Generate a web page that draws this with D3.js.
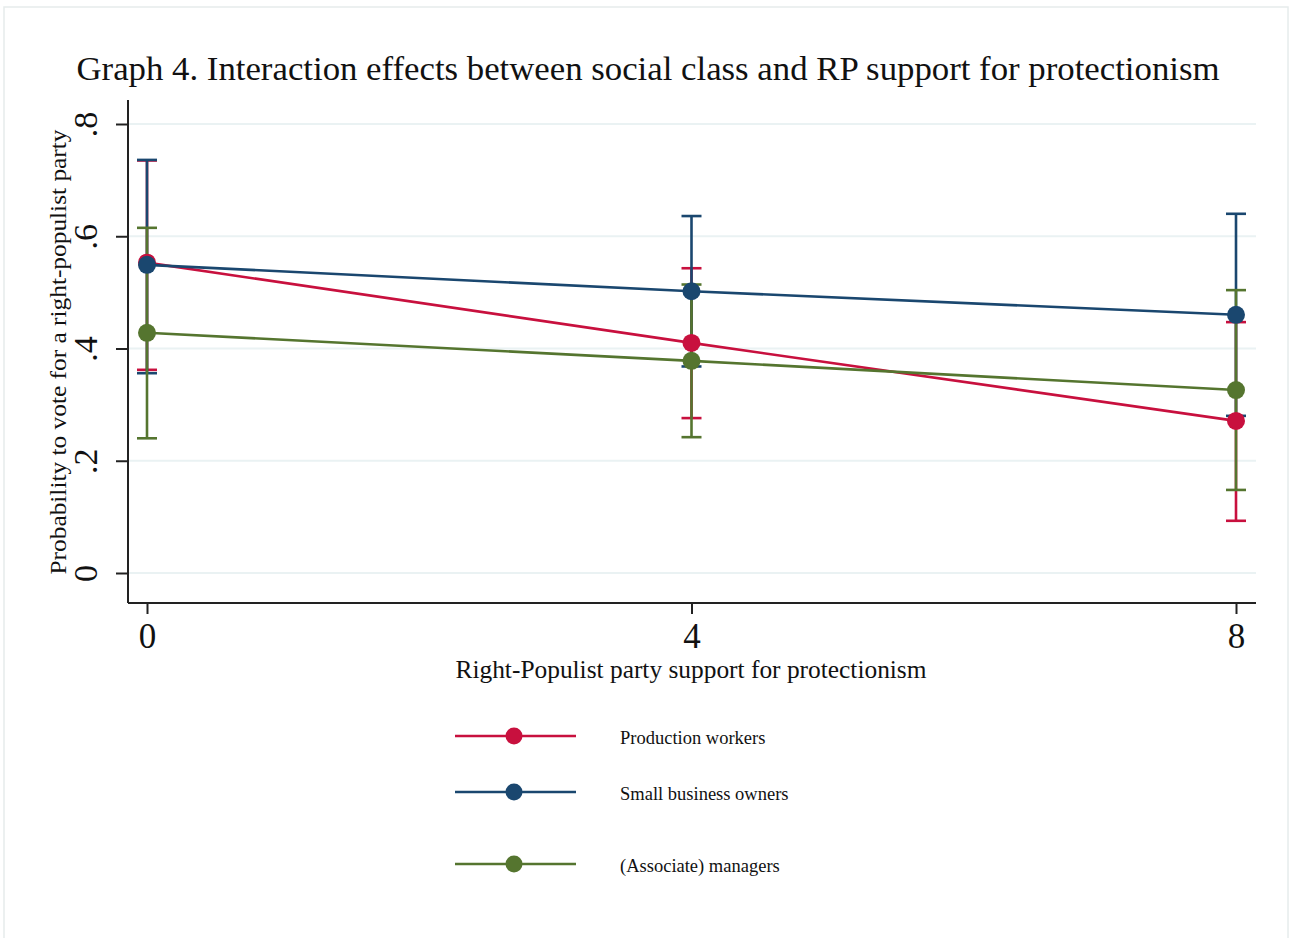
<!DOCTYPE html>
<html>
<head>
<meta charset="utf-8">
<script src="https://cdn.jsdelivr.net/npm/d3@7"></script>
<style>
  body { margin: 0; background: #fff; }
  svg { display: block; }
</style>
</head>
<body>
<svg id="chart" width="1291" height="938"></svg>
<script>
// values
const xValues = [0, 4, 8];
const seriesNames = ["Production workers", "Small business owners", "(Associate) managers"];
const workersMean = [0.553, 0.410, 0.271];
const workersLow = [0.362, 0.276, 0.093];
const workersHigh = [0.735, 0.543, 0.447];
const ownersMean = [0.549, 0.502, 0.460];
const ownersLow = [0.356, 0.368, 0.280];
const ownersHigh = [0.736, 0.636, 0.640];
const managersMean = [0.428, 0.378, 0.326];
const managersLow = [0.240, 0.242, 0.148];
const managersHigh = [0.615, 0.514, 0.504];
const yTicks = [0, 0.2, 0.4, 0.6, 0.8];
const yTickLabels = ["0", ".2", ".4", ".6", ".8"];
const seriesColors = ["#c8103e", "#1a476f", "#55752f"];

const series = [
  { name: seriesNames[0], mean: workersMean, low: workersLow, high: workersHigh, color: seriesColors[0] },
  { name: seriesNames[1], mean: ownersMean, low: ownersLow, high: ownersHigh, color: seriesColors[1] },
  { name: seriesNames[2], mean: managersMean, low: managersLow, high: managersHigh, color: seriesColors[2] }
];

const svg = d3.select("#chart");
const font = "'Liberation Serif', 'Times New Roman', serif";

// outer frame
svg.append("rect")
  .attr("x", 4).attr("y", 7)
  .attr("width", 1284).attr("height", 940)
  .attr("fill", "#fff")
  .attr("stroke", "#e6ecec")
  .attr("stroke-width", 1.5);

const plotLeft = 128, plotRight = 1256, plotTop = 100, plotBottom = 603;

const x = d3.scaleLinear().domain([0, 8]).range([147, 1236]);
const y = d3.scaleLinear().domain([0, 0.8]).range([573, 124]);

// title
svg.append("text")
  .attr("x", 648).attr("y", 80)
  .attr("text-anchor", "middle")
  .attr("font-family", font)
  .attr("font-size", 33)
  .attr("textLength", 1143)
  .attr("lengthAdjust", "spacingAndGlyphs")
  .attr("fill", "#111")
  .text("Graph 4. Interaction effects between social class and RP support for protectionism");

// grid lines
svg.append("g")
  .selectAll("line")
  .data(yTicks)
  .join("line")
  .attr("x1", plotLeft).attr("x2", plotRight)
  .attr("y1", d => y(d)).attr("y2", d => y(d))
  .attr("stroke", "#eaf2f3")
  .attr("stroke-width", 2);

// y axis
const yAxis = svg.append("g")
  .attr("transform", `translate(${plotLeft},0)`)
  .call(d3.axisLeft(y).tickValues(yTicks).tickFormat((d, i) => yTickLabels[i]).tickSize(12).tickSizeOuter(0));
yAxis.select(".domain").remove();
yAxis.append("line")
  .attr("x1", 0).attr("x2", 0)
  .attr("y1", plotTop).attr("y2", plotBottom)
  .attr("stroke", "#222").attr("stroke-width", 2);
yAxis.selectAll(".tick line").attr("stroke", "#222").attr("stroke-width", 2);
yAxis.selectAll(".tick text")
  .attr("font-family", font)
  .attr("font-size", 34)
  .attr("fill", "#111")
  .attr("x", 0).attr("dy", 0)
  .attr("text-anchor", "middle")
  .attr("transform", "translate(-31,0) rotate(-90)");

// x axis
const xAxis = svg.append("g")
  .attr("transform", `translate(0,${plotBottom})`)
  .call(d3.axisBottom(x).tickValues(xValues).tickFormat(d3.format("d")).tickSize(11).tickSizeOuter(0));
xAxis.select(".domain").remove();
xAxis.append("line")
  .attr("x1", plotLeft).attr("x2", plotRight)
  .attr("y1", 0).attr("y2", 0)
  .attr("stroke", "#222").attr("stroke-width", 2);
xAxis.selectAll(".tick line").attr("stroke", "#222").attr("stroke-width", 2);
xAxis.selectAll(".tick text")
  .attr("font-family", font)
  .attr("font-size", 35)
  .attr("fill", "#111")
  .attr("y", 45).attr("dy", 0);

// axis titles
svg.append("text")
  .attr("transform", "translate(66,352) rotate(-90)")
  .attr("text-anchor", "middle")
  .attr("font-family", font)
  .attr("font-size", 24)
  .attr("textLength", 445)
  .attr("lengthAdjust", "spacingAndGlyphs")
  .attr("fill", "#111")
  .text("Probability to vote for a right-populist party");

svg.append("text")
  .attr("x", 691).attr("y", 678)
  .attr("text-anchor", "middle")
  .attr("font-family", font)
  .attr("font-size", 25)
  .attr("textLength", 471)
  .attr("lengthAdjust", "spacingAndGlyphs")
  .attr("fill", "#111")
  .text("Right-Populist party support for protectionism");

// confidence intervals
const capHalf = 10;
const ciGroup = svg.append("g");
series.forEach(s => {
  const g = ciGroup.append("g").attr("stroke", s.color).attr("stroke-width", 2.6);
  xValues.forEach((xv, i) => {
    g.append("line")
      .attr("x1", x(xv)).attr("x2", x(xv))
      .attr("y1", y(s.low[i])).attr("y2", y(s.high[i]));
    g.append("line")
      .attr("x1", x(xv) - capHalf).attr("x2", x(xv) + capHalf)
      .attr("y1", y(s.low[i])).attr("y2", y(s.low[i]));
    g.append("line")
      .attr("x1", x(xv) - capHalf).attr("x2", x(xv) + capHalf)
      .attr("y1", y(s.high[i])).attr("y2", y(s.high[i]));
  });
});

// lines and markers
const line = d3.line()
  .x((d, i) => x(xValues[i]))
  .y(d => y(d));

series.forEach(s => {
  svg.append("path")
    .datum(s.mean)
    .attr("d", line)
    .attr("fill", "none")
    .attr("stroke", s.color)
    .attr("stroke-width", 2.6);
  svg.append("g")
    .selectAll("circle")
    .data(s.mean)
    .join("circle")
    .attr("cx", (d, i) => x(xValues[i]))
    .attr("cy", d => y(d))
    .attr("r", 9)
    .attr("fill", s.color);
});

// legend
const legendRows = [736, 792, 864];
const legend = svg.append("g");
series.forEach((s, i) => {
  const ly = legendRows[i];
  legend.append("line")
    .attr("x1", 455).attr("x2", 576)
    .attr("y1", ly).attr("y2", ly)
    .attr("stroke", s.color).attr("stroke-width", 2.6);
  legend.append("circle")
    .attr("cx", 514).attr("cy", ly).attr("r", 8.5)
    .attr("fill", s.color);
  legend.append("text")
    .attr("x", 620).attr("y", ly + 8)
    .attr("font-family", font)
    .attr("font-size", 18.5)
    .attr("fill", "#111")
    .text(s.name);
});
</script>
</body>
</html>
